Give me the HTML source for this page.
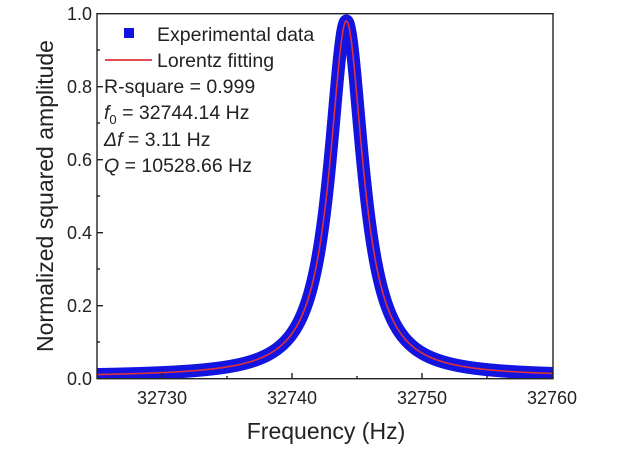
<!DOCTYPE html>
<html><head><meta charset="utf-8"><style>
body{margin:0;background:#fff;width:619px;height:445px;overflow:hidden}
svg text{font-family:"Liberation Sans",Arial,sans-serif;fill:#222}
</style></head><body>
<svg id="s" width="619" height="445" viewBox="0 0 619 445" xmlns="http://www.w3.org/2000/svg">
<defs><clipPath id="c"><rect x="97" y="0" width="456" height="379"/></clipPath></defs>
<g clip-path="url(#c)">
<path id="blue" fill="none" stroke="#1414e0" stroke-width="13" stroke-linejoin="round"/>
<path id="red" fill="none" stroke="#e0303a" stroke-width="1.6"/>
</g>
<rect x="97" y="13.7" width="456" height="365" fill="none" stroke="#222" stroke-width="1.4"/>
<g stroke="#222" stroke-width="1.4">
<line x1="162" y1="379" x2="162" y2="373"/><line x1="292" y1="379" x2="292" y2="373"/><line x1="422" y1="379" x2="422" y2="373"/>
<line x1="227" y1="379" x2="227" y2="376"/><line x1="357" y1="379" x2="357" y2="376"/><line x1="487" y1="379" x2="487" y2="376"/>
<line x1="97" y1="305.7" x2="103" y2="305.7"/><line x1="97" y1="232.7" x2="103" y2="232.7"/><line x1="97" y1="159.7" x2="103" y2="159.7"/><line x1="97" y1="86.7" x2="103" y2="86.7"/>
<line x1="97" y1="342" x2="100" y2="342"/><line x1="97" y1="269" x2="100" y2="269"/><line x1="97" y1="196" x2="100" y2="196"/><line x1="97" y1="123" x2="100" y2="123"/><line x1="97" y1="50" x2="100" y2="50"/>
</g>
<g font-size="18" text-anchor="end">
<text x="92" y="385">0.0</text><text x="92" y="312">0.2</text><text x="92" y="239">0.4</text><text x="92" y="166">0.6</text><text x="92" y="93">0.8</text><text x="92" y="20">1.0</text>
</g>
<g font-size="18" text-anchor="middle">
<text x="162" y="404">32730</text><text x="292" y="404">32740</text><text x="422" y="404">32750</text><text x="552" y="404">32760</text>
</g>
<text x="326" y="439" font-size="23" text-anchor="middle">Frequency (Hz)</text>
<text transform="translate(53,196) rotate(-90)" font-size="23" text-anchor="middle">Normalized squared amplitude</text>
<rect x="124" y="28" width="10" height="10" fill="#1414e0"/>
<text x="157" y="41" font-size="19.5">Experimental data</text>
<line x1="105" y1="60" x2="152" y2="60" stroke="#e0303a" stroke-width="1.8"/>
<text x="157" y="67" font-size="19.5">Lorentz fitting</text>
<text x="104" y="93" font-size="19.5">R-square = 0.999</text>
<text x="104" y="119" font-size="19.5"><tspan font-style="italic">f</tspan><tspan font-size="13" dy="5">0</tspan><tspan dy="-5"> = 32744.14 Hz</tspan></text>
<text x="104" y="146" font-size="19.5"><tspan font-style="italic">Δf</tspan> = 3.11 Hz</text>
<text x="104" y="172" font-size="19.5"><tspan font-style="italic">Q</tspan> = 10528.66 Hz</text>
</svg>
<script>
var f0=32744.14,g=1.555,A=0.975,b=0.005;
function X(f){return 97+(f-32725)*456/35}
function Y(v){return 378.7-v*365}
var d="";
for(var f=32724;f<=32761;f+=0.02){var v=b+A*g*g/((f-f0)*(f-f0)+g*g);d+=(d?"L":"M")+X(f).toFixed(2)+","+Y(v).toFixed(2);}
document.getElementById("blue").setAttribute("d",d);
document.getElementById("red").setAttribute("d",d);
</script>
</body></html>
